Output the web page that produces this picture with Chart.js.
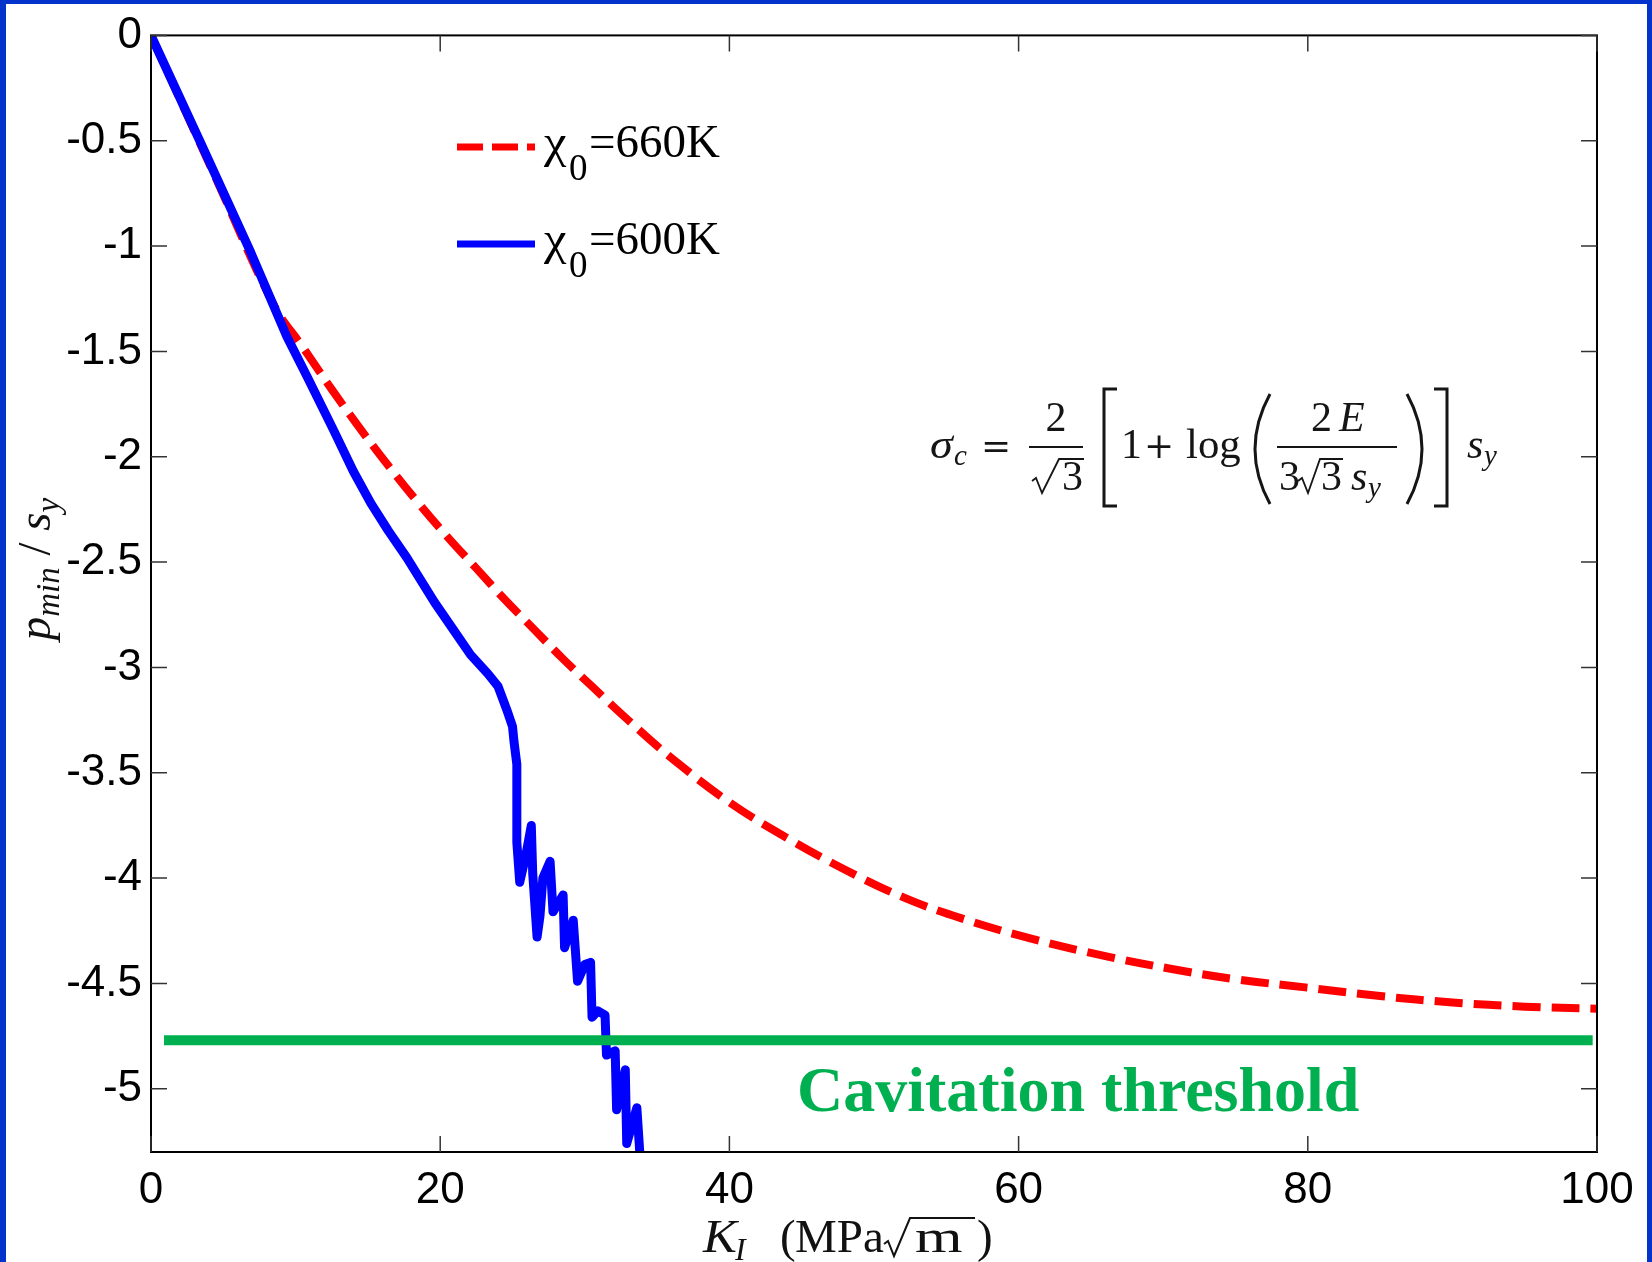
<!DOCTYPE html>
<html>
<head>
<meta charset="utf-8">
<title>p_min / s_y vs K_I</title>
<script src="https://cdn.jsdelivr.net/npm/chart.js@4.4.0/dist/chart.umd.min.js"></script>
<style>
    html, body { margin: 0; padding: 0; background: #fff; }
    #wrap { width: 1652px; height: 1262px; }
</style>
</head>
<body>
<div id="wrap"><canvas id="chart-pmin" width="1652" height="1262"></canvas></div>
<script>
// Curvas p_min/s_y frente a K_I (MPa sqrt(m))
const kRed = [0, 4.5, 8.5, 10.5, 12.5, 14.5, 16.5, 18.5, 20.5, 22.5, 24.5, 26.5, 28.5, 30.5, 33, 36, 40, 44, 48, 52, 56, 61, 66, 70.5, 75, 80, 85, 90, 95, 100];
const pRed = [0, -0.68, -1.28, -1.48, -1.68, -1.87, -2.05, -2.22, -2.38, -2.53, -2.68, -2.82, -2.96, -3.09, -3.25, -3.43, -3.64, -3.81, -3.96, -4.09, -4.19, -4.29, -4.37, -4.43, -4.48, -4.52, -4.56, -4.59, -4.61, -4.62];

const kBlue = [0, 3.5, 6.9, 9.4, 10.8, 12.6, 14.0, 15.2, 16.4, 17.7, 18.6, 19.6, 20.8, 22.1, 23.3, 24.0, 24.6, 25.0, 25.1, 25.3, 25.3, 25.5, 25.9, 26.3, 26.4, 26.7, 26.9, 27.1, 27.6, 27.8, 28.5, 28.6, 29.2, 29.5, 30.0, 30.4, 30.5, 30.9, 31.4, 31.5, 32.1, 32.2, 32.8, 32.9, 33.6, 33.8, 34.0];
const pBlue = [0, -0.52, -1.03, -1.43, -1.62, -1.87, -2.07, -2.22, -2.35, -2.48, -2.58, -2.69, -2.81, -2.94, -3.03, -3.09, -3.20, -3.28, -3.35, -3.46, -3.83, -4.02, -3.90, -3.75, -3.98, -4.28, -4.18, -4.00, -3.92, -4.16, -4.08, -4.33, -4.20, -4.49, -4.41, -4.40, -4.66, -4.63, -4.65, -4.84, -4.82, -5.10, -4.91, -5.26, -5.09, -5.30, -5.40];

// umbral de cavitacion
const kCav = [0.9, 99.7];
const pCav = [-4.77, -4.77];

const xTicks = [0, 20, 40, 60, 80, 100];
const yTicks = [0, -0.5, -1, -1.5, -2, -2.5, -3, -3.5, -4, -4.5, -5];

const toPoints = (xs, ys) => xs.map((v, i) => ({ x: v, y: ys[i] }));

const serif = '"Liberation Serif", "DejaVu Serif", serif';
const sans = '"Liberation Sans", Arial, sans-serif';
const F = (size, italic, bold) => `${italic ? 'italic ' : ''}${bold ? 'bold ' : ''}${size}px ${serif}`;
const OP = size => `${size}px "DejaVu Serif", serif`;

function put(ctx, s, x, y, font, align) {
    ctx.font = font;
    ctx.textAlign = align || 'left';
    ctx.fillText(s, x, y);
    return ctx.measureText(s).width;
}

// texto ensanchado en horizontal
function putWide(ctx, s, x, y, font, sx) {
    ctx.save();
    ctx.translate(x, y);
    ctx.scale(sx, 1);
    ctx.font = font;
    ctx.textAlign = 'left';
    ctx.fillText(s, 0, 0);
    ctx.restore();
}

function radical(ctx, x0, x1, x2, yTop, yBot, lw) {
    ctx.beginPath();
    ctx.moveTo(x0, yBot - 12);
    ctx.lineTo(x0 + 4, yBot - 15);
    ctx.lineTo(x0 + 10, yBot);
    ctx.lineTo(x1, yTop);
    ctx.lineTo(x2, yTop);
    ctx.lineWidth = lw;
    ctx.stroke();
}

function hline(ctx, x0, x1, y, lw) {
    ctx.beginPath();
    ctx.moveTo(x0, y);
    ctx.lineTo(x1, y);
    ctx.lineWidth = lw;
    ctx.stroke();
}

function paren(ctx, xEnd, xMid, yTop, yBot) {
    const ym = (yTop + yBot) / 2;
    ctx.beginPath();
    ctx.moveTo(xEnd, yTop);
    ctx.quadraticCurveTo(xMid, ym, xEnd, yBot);
    ctx.lineWidth = 3;
    ctx.stroke();
}

function bracket(ctx, xv, xs, yTop, yBot) {
    ctx.beginPath();
    ctx.moveTo(xs, yTop);
    ctx.lineTo(xv, yTop);
    ctx.lineTo(xv, yBot);
    ctx.lineTo(xs, yBot);
    ctx.lineWidth = 3;
    ctx.stroke();
}

// formula sigma_c = 2/sqrt(3) [1 + log(2E / (3 sqrt(3) s_y))] s_y
function drawFormula(ctx) {
    ctx.save();
    ctx.fillStyle = '#151515';
    ctx.strokeStyle = '#151515';
    ctx.textBaseline = 'alphabetic';
    const base = 458, axis = 447, num = 431, den = 490;

    putWide(ctx, 'σ', 930, base, F(42, true), 1.1);
    put(ctx, 'c', 954, base + 7, F(29, true));
    put(ctx, '=', 996, base, OP(36), 'center');

    hline(ctx, 1029, 1083, axis, 1.8);
    put(ctx, '2', 1056, num, F(42), 'center');
    radical(ctx, 1032, 1059, 1084, 459, den + 3, 1.8);
    put(ctx, '3', 1062, den, F(42));

    bracket(ctx, 1104, 1117, 389, 506);
    put(ctx, '1', 1121, base, F(42));
    put(ctx, '+', 1159, base, OP(36), 'center');
    putWide(ctx, 'log', 1186, base, F(42), 1.02);

    paren(ctx, 1270, 1240, 394, 504);
    hline(ctx, 1277, 1397, axis, 1.8);
    put(ctx, '2', 1311, num, F(42));
    put(ctx, 'E', 1339, num, F(42, true));
    put(ctx, '3', 1279, den, F(42));
    radical(ctx, 1298, 1320, 1343, 459, den + 3, 1.8);
    put(ctx, '3', 1321, den, F(42));
    put(ctx, 's', 1351, den, F(42, true));
    put(ctx, 'y', 1368, den + 7, F(29, true));
    paren(ctx, 1407, 1437, 394, 504);

    bracket(ctx, 1447, 1434, 389, 506);
    put(ctx, 's', 1467, base, F(42, true));
    put(ctx, 'y', 1484, base + 7, F(29, true));
    ctx.restore();
}

function drawLegend(ctx) {
    ctx.save();
    ctx.lineCap = 'butt';
    ctx.strokeStyle = '#ff0000';
    ctx.setLineDash([26, 9]);
    hline(ctx, 457, 535, 147, 7);
    ctx.setLineDash([]);
    ctx.strokeStyle = '#0000ff';
    hline(ctx, 457, 535, 244, 7);

    ctx.fillStyle = '#000';
    ctx.textBaseline = 'alphabetic';
    [['660K', 157], ['600K', 254]].forEach(([t, b]) => {
        putWide(ctx, 'χ', 544, b, F(46), 1.1);
        put(ctx, '0', 569, b + 23, F(37));
        put(ctx, '=' + t, 589, b, F(47));
    });
    ctx.restore();
}

function drawAxisTitles(ctx) {
    ctx.save();
    ctx.fillStyle = '#111';
    ctx.strokeStyle = '#111';
    ctx.textBaseline = 'alphabetic';
    // K_I (MPa sqrt(m))
    const b = 1252;
    putWide(ctx, 'K', 703, b, F(47, true), 1.08);
    put(ctx, 'I', 735, b + 8, F(32, true));
    put(ctx, '(', 780, b, F(47));
    putWide(ctx, 'MPa', 795, b, F(47), 1.0);
    radical(ctx, 884, 910, 975, 1218, b + 4, 2);
    putWide(ctx, 'm', 915, b, F(47), 1.3);
    put(ctx, ')', 977, b, F(47));

    // p_min / s_y, girado
    const parts = [
        ['p', F(47, true), 0],
        ['min', F(33, true), 9],
        [' / ', F(47), 0],
        ['s', F(47, true), 0],
        ['y', F(33, true), 9]
    ];
    let total = 0;
    parts.forEach(p => { ctx.font = p[1]; total += ctx.measureText(p[0]).width; });
    ctx.translate(50, 569);
    ctx.rotate(-Math.PI / 2);
    let cx = -total / 2;
    parts.forEach(p => { cx += put(ctx, p[0], cx, p[2], p[1]); });
    ctx.restore();
}

const framePlugin = {
    id: 'frame',
    beforeDraw(chart) {
        const ctx = chart.ctx;
        ctx.save();
        ctx.fillStyle = '#fff';
        ctx.fillRect(0, 0, chart.width, chart.height);
        ctx.restore();
    },
    afterDraw(chart) {
        const { ctx, chartArea: a, scales: { x, y } } = chart;
        ctx.save();
        // caja con marcas hacia dentro en los cuatro lados
        ctx.strokeStyle = '#000';
        ctx.lineWidth = 2;
        ctx.strokeRect(a.left, a.top, a.right - a.left, a.bottom - a.top);
        const len = 16;
        ctx.strokeStyle = '#333';
        ctx.lineWidth = 1.5;
        ctx.beginPath();
        xTicks.forEach(v => {
            const px = x.getPixelForValue(v);
            ctx.moveTo(px, a.bottom); ctx.lineTo(px, a.bottom - len);
            ctx.moveTo(px, a.top); ctx.lineTo(px, a.top + len);
        });
        yTicks.forEach(v => {
            const py = y.getPixelForValue(v);
            ctx.moveTo(a.left, py); ctx.lineTo(a.left + len, py);
            ctx.moveTo(a.right, py); ctx.lineTo(a.right - len, py);
        });
        ctx.stroke();
        ctx.restore();

        drawLegend(ctx);
        drawFormula(ctx);
        drawAxisTitles(ctx);

        ctx.save();
        ctx.fillStyle = '#00b050';
        ctx.textBaseline = 'alphabetic';
        put(ctx, 'Cavitation threshold', 797, 1111, F(64, false, true));

        // marco azul
        ctx.fillStyle = '#0433cc';
        ctx.fillRect(0, 0, 6, chart.height);
        ctx.fillRect(0, 0, chart.width, 4);
        ctx.fillRect(chart.width - 5, 0, 5, chart.height);
        ctx.restore();
    }
};

const chart = new Chart(document.getElementById('chart-pmin'), {
    type: 'scatter',
    data: {
        datasets: [
            {
                label: 'Cavitation threshold',
                data: toPoints(kCav, pCav),
                showLine: true,
                borderColor: '#00b050',
                borderWidth: 10,
                pointRadius: 0,
                borderCapStyle: 'butt'
            },
            {
                label: 'χ0=600K',
                data: toPoints(kBlue, pBlue),
                showLine: true,
                borderColor: '#0000ff',
                borderWidth: 9,
                pointRadius: 0,
                tension: 0,
                borderJoinStyle: 'round',
                borderCapStyle: 'round'
            },
            {
                label: 'χ0=660K',
                data: toPoints(kRed, pRed),
                showLine: true,
                borderColor: '#ff0000',
                borderWidth: 8,
                borderDash: [28, 11],
                pointRadius: 0,
                tension: 0.4,
                borderCapStyle: 'butt'
            }
        ]
    },
    options: {
        responsive: false,
        animation: false,
        devicePixelRatio: 1,
        layout: { padding: { left: 0, right: 55, top: 25, bottom: 0 } },
        plugins: {
            legend: { display: false },
            tooltip: { enabled: false }
        },
        scales: {
            x: {
                type: 'linear',
                min: 0,
                max: 100,
                afterBuildTicks: s => { s.ticks = xTicks.map(v => ({ value: v })); },
                afterFit: s => { s.height = 110; },
                grid: { display: false, drawTicks: false },
                border: { display: false },
                ticks: {
                    color: '#000',
                    padding: 12,
                    maxRotation: 0,
                    font: { family: sans, size: 44 },
                    callback: v => String(v)
                }
            },
            y: {
                type: 'linear',
                min: -5.3,
                max: 0,
                afterBuildTicks: s => { s.ticks = yTicks.map(v => ({ value: v })); },
                afterFit: s => { s.width = 151; },
                grid: { display: false, drawTicks: false },
                border: { display: false },
                ticks: {
                    color: '#000',
                    padding: 9,
                    font: { family: sans, size: 44 },
                    callback: v => String(v)
                }
            }
        }
    },
    plugins: [framePlugin]
});
</script>
</body>
</html>
